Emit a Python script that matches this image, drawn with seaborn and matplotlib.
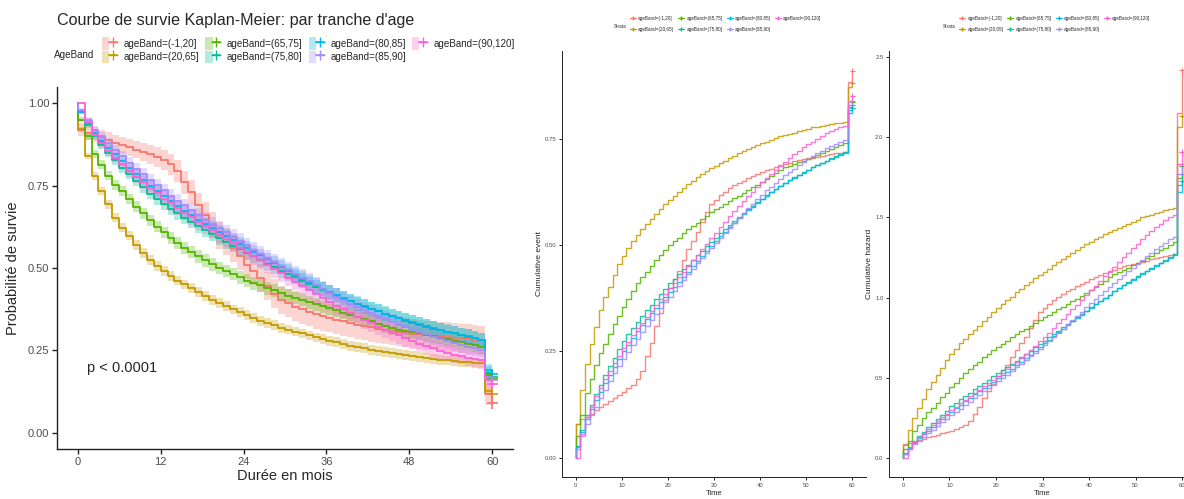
import numpy as np
import pandas as pd
import matplotlib
matplotlib.use("Agg")
import matplotlib.pyplot as plt
from matplotlib.lines import Line2D
from matplotlib.patches import Patch
from matplotlib.legend_handler import HandlerTuple
import seaborn as sns

strata = ["ageBand=(-1,20]", "ageBand=(20,65]", "ageBand=(65,75]", "ageBand=(75,80]",
          "ageBand=(80,85]", "ageBand=(85,90]", "ageBand=(90,120]"]
colors = ["#F8766D", "#C49A00", "#53B400", "#00C094", "#00B6EB", "#A58AFF", "#FB61D7"]
months = list(range(61))

# cumulative event (1 - survie) per month 0..60
evt_m1_20 = [.080, .090, .095, .103, .112, .120, .127, .133, .140, .147,
             .155, .163, .172, .185, .205, .240, .270, .310, .340, .370,
             .400, .420, .440, .465, .490, .510, .530, .555, .578, .598,
             .607, .617, .626, .634, .641, .647, .652, .657, .662, .667,
             .672, .676, .680, .684, .688, .691, .694, .697, .700, .702,
             .704, .706, .708, .710, .712, .714, .716, .718, .720, .884, .911]
evt_20_65 = [.078, .160, .220, .267, .307, .347, .377, .402, .430, .455,
             .475, .493, .510, .524, .538, .550, .561, .573, .585, .597,
             .607, .616, .626, .634, .644, .652, .660, .667, .674, .681,
             .687, .693, .699, .705, .711, .716, .721, .726, .731, .736,
             .740, .744, .748, .752, .756, .759, .762, .765, .768, .771,
             .774, .777, .779, .781, .783, .785, .787, .788, .790, .873, .882]
evt_65_75 = [.050, .100, .153, .186, .219, .247, .267, .290, .314, .333,
             .355, .374, .392, .410, .424, .438, .451, .465, .477, .489,
             .500, .509, .518, .528, .538, .546, .553, .561, .568, .577,
             .585, .591, .597, .604, .610, .616, .623, .629, .636, .642,
             .648, .655, .662, .669, .676, .683, .687, .691, .695, .699,
             .703, .708, .712, .717, .721, .726, .730, .735, .740, .826, .838]
evt_75_80 = [.027, .065, .100, .125, .150, .172, .195, .215, .235, .255,
             .274, .290, .305, .320, .334, .347, .360, .373, .386, .398,
             .410, .421, .432, .443, .454, .465, .476, .487, .498, .508,
             .518, .528, .538, .548, .557, .566, .575, .584, .593, .601,
             .609, .617, .625, .632, .639, .646, .653, .660, .666, .672,
             .678, .684, .689, .694, .699, .704, .709, .714, .720, .818, .830]
evt_80_85 = [.025, .060, .090, .115, .135, .155, .175, .195, .213, .232,
             .250, .266, .282, .297, .312, .326, .340, .353, .366, .378,
             .390, .402, .414, .426, .438, .450, .462, .474, .486, .498,
             .510, .521, .532, .543, .553, .563, .573, .582, .591, .600,
             .608, .616, .624, .632, .639, .646, .653, .659, .665, .671,
             .677, .683, .688, .693, .698, .703, .708, .713, .718, .810, .822]
evt_85_90 = [.020, .050, .080, .100, .120, .140, .160, .180, .198, .215,
             .232, .248, .264, .280, .295, .310, .325, .339, .353, .366,
             .379, .392, .405, .418, .431, .444, .457, .469, .481, .493,
             .505, .517, .529, .541, .553, .565, .576, .587, .598, .609,
             .619, .629, .638, .647, .656, .664, .672, .680, .688, .695,
             .702, .709, .716, .722, .728, .734, .739, .744, .748, .830, .840]
evt_90_120 = [.000, .055, .095, .120, .145, .165, .185, .205, .222, .240,
              .257, .273, .289, .304, .318, .332, .346, .360, .373, .386,
              .399, .412, .425, .438, .451, .464, .477, .490, .503, .516,
              .529, .542, .555, .568, .580, .592, .604, .615, .626, .637,
              .648, .658, .668, .678, .687, .696, .705, .714, .722, .730,
              .737, .744, .751, .757, .763, .768, .773, .777, .781, .840, .852]
# group sizes, used for the confidence ribbon
n_patients = [700, 5200, 3400, 2900, 3000, 2300, 2000]

all_evt = [evt_m1_20, evt_20_65, evt_65_75, evt_75_80, evt_80_85, evt_85_90, evt_90_120]

frames = []
for name, evt, n in zip(strata, all_evt, n_patients):
    t = np.array([0] + months)
    surv = np.array([1.0] + [1 - e for e in evt])
    # effective size shrinks with follow-up (censoring)
    n_eff = n / (1 + 0.85 * t / 60)
    se = 1.96 * np.sqrt(surv * (1 - surv) / n_eff)
    frames.append(pd.DataFrame({
        "strata": name,
        "time": t,
        "surv": surv,
        "lower": np.clip(surv - se, 0, 1),
        "upper": np.clip(surv + se, 0, 1),
        "cumevt": 1 - surv,
        "cumhaz": -np.log(surv),
    }))
df = pd.concat(frames, ignore_index=True)
ends = df[df.time == 60].drop_duplicates("strata", keep="last")

sns.set_style("ticks")
plt.rcParams["font.family"] = ["Liberation Sans", "DejaVu Sans"]

W, H = 1184, 499
fig = plt.figure(figsize=(W / 100, H / 100), dpi=100)


def box(x0, y0, x1, y1):
    return [x0 / W, 1 - y1 / H, (x1 - x0) / W, (y1 - y0) / H]


def style_axis(ax, lw, tcol, tsize, tlen):
    sns.despine(ax=ax)
    for s in ["left", "bottom"]:
        ax.spines[s].set_linewidth(lw)
        ax.spines[s].set_color("#222222")
    ax.tick_params(colors="#222222", labelcolor=tcol, labelsize=tsize, length=tlen, width=lw, pad=2)


# ---- left: Kaplan-Meier
ax = fig.add_axes(box(57, 87, 513, 449))
for name, c in zip(strata, colors):
    d = df[df.strata == name]
    ax.fill_between(d.time, d.lower, d.upper, step="post", color=c, alpha=0.3, lw=0)
sns.lineplot(data=df, x="time", y="surv", hue="strata", hue_order=strata, palette=colors,
             drawstyle="steps-post", estimator=None, sort=False, lw=1.3, ax=ax, legend=False)
sns.scatterplot(data=ends, x="time", y="surv", hue="strata", hue_order=strata, palette=colors,
                marker="+", s=60, linewidth=1.2, ax=ax, legend=False)
ax.set_xlim(-3, 63)
ax.set_ylim(-0.05, 1.05)
ax.set_xticks([0, 12, 24, 36, 48, 60])
ax.set_yticks([0, 0.25, 0.5, 0.75, 1.0])
ax.set_yticklabels(["0.00", "0.25", "0.50", "0.75", "1.00"])
style_axis(ax, 1.0, "#4D4D4D", 8, 3.5)
ax.set_xlabel("Durée en mois", fontsize=10.5, labelpad=2)
ax.set_ylabel("Probabilité de survie", fontsize=10.5, labelpad=6)
ax.text(1.3, 0.195, "p < 0.0001", fontsize=10.5, va="center", ha="left")
fig.text(57 / W, 1 - 20 / H, "Courbe de survie Kaplan-Meier: par tranche d'age",
         fontsize=11.6, va="center", ha="left")
fig.text(54 / W, 1 - 55 / H, "AgeBand", fontsize=7.1, va="center", ha="left")
handles = [(Patch(facecolor=c, alpha=0.3, lw=0),
            Line2D([], [], color=c, lw=1.2, marker="+", markersize=7)) for c in colors]
fig.legend(handles, strata, ncol=4, loc="upper left", bbox_to_anchor=(102 / W, 1 - 37 / H),
           frameon=False, fontsize=7.1, handlelength=1.5, handleheight=1.6, handletextpad=0.7,
           labelspacing=0.1, columnspacing=0.6, borderpad=0, borderaxespad=0,
           handler_map={tuple: HandlerTuple(ndivide=None, pad=0)})


def small_panel(x0, x1, col, ylim, yticks, ylabels, ylabel, lx):
    axs = fig.add_axes(box(x0, 51, x1, 477))
    sns.lineplot(data=df, x="time", y=col, hue="strata", hue_order=strata, palette=colors,
                 drawstyle="steps-post", estimator=None, sort=False, lw=1.0, alpha=0.85,
                 ax=axs, legend=False)
    sns.scatterplot(data=ends, x="time", y=col, hue="strata", hue_order=strata, palette=colors,
                    marker="+", s=14, linewidth=0.8, ax=axs, legend=False)
    axs.set_xlim(-3, 63)
    axs.set_ylim(*ylim)
    axs.set_xticks([0, 10, 20, 30, 40, 50, 60])
    axs.set_yticks(yticks)
    axs.set_yticklabels(ylabels)
    style_axis(axs, 0.7, "#4D4D4D", 4.3, 2)
    axs.set_xlabel("Time", fontsize=5.5, labelpad=2)
    axs.set_ylabel(ylabel, fontsize=6, labelpad=1.5)
    fig.text(lx / W, 1 - 27 / H, "Strata", fontsize=3.3, va="center", ha="left")
    hs = [Line2D([], [], color=c, lw=0.8, marker="+", markersize=3.5) for c in colors]
    fig.legend(hs, strata, ncol=4, loc="upper left", bbox_to_anchor=((lx + 16) / W, 1 - 16 / H),
               frameon=False, fontsize=3.3, handlelength=1.3, handletextpad=0.5,
               labelspacing=1.3, columnspacing=0.9, borderpad=0, borderaxespad=0)
    return axs


small_panel(562, 866, "cumevt", (-0.0456, 0.957), [0, 0.25, 0.5, 0.75],
            ["0.00", "0.25", "0.50", "0.75"], "Cumulative event", 614)
small_panel(889, 1196, "cumhaz", (-0.121, 2.54), [0, 0.5, 1.0, 1.5, 2.0, 2.5],
            ["0.0", "0.5", "1.0", "1.5", "2.0", "2.5"], "Cumulative hazard", 943)

fig.savefig("out.png", dpi=100)
